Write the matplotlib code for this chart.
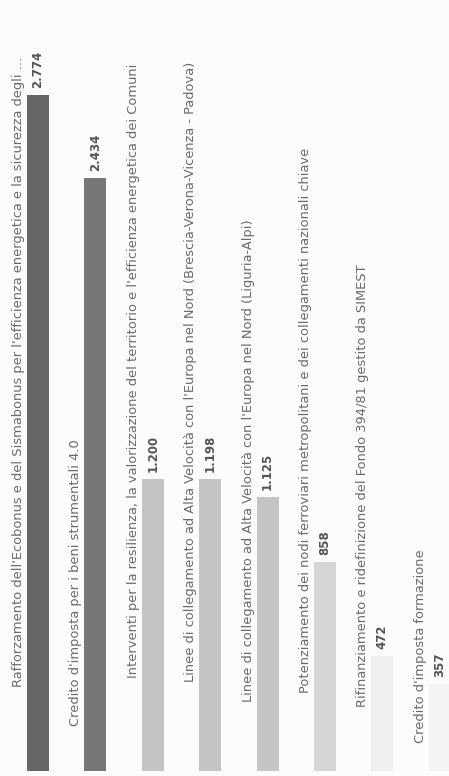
import matplotlib
import matplotlib.pyplot as plt
import matplotlib.transforms as mtransforms

matplotlib.rcParams['figure.dpi'] = 100
plt.rcParams['font.family'] = ['DejaVu Sans']

# data
categories = [
    "Rafforzamento dell'Ecobonus e del Sismabonus per l'efficienza energetica e la sicurezza degli ...",
    "Credito d'imposta per i beni strumentali 4.0",
    "Interventi per la resilienza, la valorizzazione del territorio e l'efficienza energetica dei Comuni",
    "Linee di collegamento ad Alta Velocità con l'Europa nel Nord (Brescia-Verona-Vicenza - Padova)",
    "Linee di collegamento ad Alta Velocità con l'Europa nel Nord (Liguria-Alpi)",
    "Potenziamento dei nodi ferroviari metropolitani e dei collegamenti nazionali chiave",
    "Rifinanziamento e ridefinizione del Fondo 394/81 gestito da SIMEST",
    "Credito d'imposta formazione",
]
values = [2774, 2434, 1200, 1198, 1125, 858, 472, 357]
value_labels = ['2.774', '2.434', '1.200', '1.198', '1.125', '858', '472', '357']

# style
bar_colors = ['#666666', '#777777', '#c4c4c4', '#c4c4c4', '#c4c4c4',
              '#d6d6d6', '#efefef', '#f4f4f4']
label_lift_px = [84, 45, 93, 89, 69, 78, 64, 28]  # where each label starts above the base

W, H = 449, 776
fig = plt.figure(figsize=(W / 100, H / 100), facecolor='#fcfcfc')
ax = fig.add_axes([0, 5 / H, 1, 771 / H])
ax.set_facecolor('#fcfcfc')

bw = 0.383
x = list(range(len(values)))
ax.bar(x, values, width=bw, color=bar_colors, zorder=2)

ax.set_xlim(-38 / 57.4, (W - 38) / 57.4)
ax.set_ylim(0, 771 / 0.2437)

for i, (cat, v, vl, lift) in enumerate(zip(categories, values, value_labels, label_lift_px)):
    # category label to the left of the bar
    off = mtransforms.offset_copy(ax.transData, fig=fig, x=-5, y=lift, units='dots')
    ax.text(i - bw / 2, 0, cat, rotation=90, rotation_mode='anchor',
            ha='left', va='baseline', fontsize=9.4, color='#6a6a6a', transform=off)
    # value label above the bar
    off2 = mtransforms.offset_copy(ax.transData, fig=fig, x=0, y=7, units='dots')
    ax.text(i, v, vl, rotation=90, rotation_mode='anchor', ha='left', va='center',
            fontsize=8.5, fontweight='bold', color='#555555', transform=off2)

ax.axis('off')
fig.savefig('out.png', dpi=100, facecolor=fig.get_facecolor())
